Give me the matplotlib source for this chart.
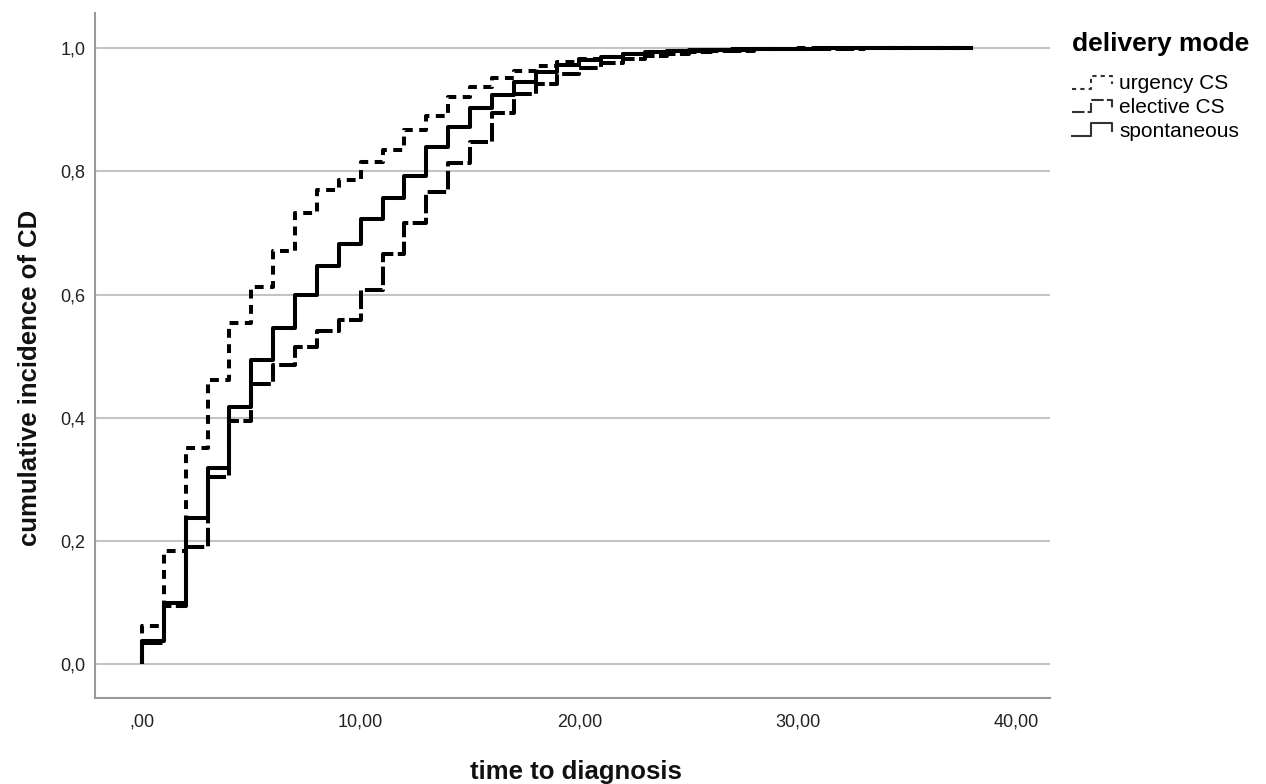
import matplotlib
matplotlib.use("Agg")
import matplotlib.pyplot as plt
from matplotlib.legend_handler import HandlerBase
from matplotlib.lines import Line2D

plt.rcParams['font.family'] = ['Liberation Sans', 'DejaVu Sans']

# step times (years) and cumulative incidence after each step
t_spont = [0, 0, 1, 2, 3, 4, 5, 6, 7, 8, 9, 10, 11, 12, 13, 14, 15, 16, 17, 18, 19, 20,
           21, 22, 23, 24, 25, 27, 29, 31, 38]
v_spont = [0.0, 0.037, 0.10, 0.238, 0.319, 0.418, 0.493, 0.546, 0.600, 0.647, 0.682, 0.723,
           0.757, 0.792, 0.839, 0.872, 0.903, 0.924, 0.945, 0.962, 0.972, 0.980, 0.986,
           0.990, 0.993, 0.995, 0.997, 0.998, 0.999, 1.0, 1.0]

t_urg = [0, 0, 1, 2, 3, 4, 5, 6, 7, 8, 9, 10, 11, 12, 13, 14, 15, 16, 17, 18, 19, 20,
         21, 22, 23, 24, 26, 28, 30, 38]
v_urg = [0.0, 0.062, 0.183, 0.351, 0.462, 0.554, 0.613, 0.671, 0.732, 0.770, 0.786, 0.815,
         0.835, 0.867, 0.890, 0.920, 0.937, 0.952, 0.963, 0.971, 0.977, 0.982, 0.986,
         0.990, 0.993, 0.995, 0.997, 0.999, 1.0, 1.0]

t_elec = [0, 0, 1, 2, 3, 4, 5, 6, 7, 8, 9, 10, 11, 12, 13, 14, 15, 16, 17, 18, 19, 20,
          21, 22, 23, 24, 25, 26, 28, 30, 33, 38]
v_elec = [0.0, 0.035, 0.094, 0.19, 0.303, 0.394, 0.454, 0.486, 0.515, 0.540, 0.559, 0.608,
          0.665, 0.716, 0.767, 0.814, 0.848, 0.894, 0.926, 0.942, 0.958, 0.968, 0.976,
          0.982, 0.987, 0.991, 0.994, 0.996, 0.998, 0.999, 1.0, 1.0]

labels = ['urgency CS', 'elective CS', 'spontaneous']
x_ticks = [0, 10, 20, 30, 40]
x_ticklabels = [',00', '10,00', '20,00', '30,00', '40,00']
y_ticks = [0.0, 0.2, 0.4, 0.6, 0.8, 1.0]
y_ticklabels = ['0,0', '0,2', '0,4', '0,6', '0,8', '1,0']

fig = plt.figure(figsize=(12.66, 7.84), dpi=100)
ax = fig.add_axes([0.075, 0.1097, 0.754, 0.8737])

lw = 2.9
dash_map = {
    'urgency CS': (2.2, 1.6),
    'elective CS': (4.6, 1.1),
    'spontaneous': None,
}
series = {
    'urgency CS': (t_urg, v_urg),
    'elective CS': (t_elec, v_elec),
    'spontaneous': (t_spont, v_spont),
}
for lab in ['elective CS', 'urgency CS', 'spontaneous']:
    t, v = series[lab]
    kw = {'dashes': dash_map[lab]} if dash_map[lab] else {'linestyle': '-'}
    ax.plot(t, v, drawstyle='steps-post', color='black', lw=lw,
            solid_capstyle='butt', dash_capstyle='butt', **kw)


class StepHandler(HandlerBase):
    def __init__(self, dashes=None):
        super().__init__()
        self.dashes = dashes

    def create_artists(self, legend, orig_handle, xdescent, ydescent, width, height,
                       fontsize, trans):
        x0 = -xdescent
        y0 = -ydescent
        xs = [x0, x0 + 0.45 * width, x0 + 0.45 * width, x0 + 0.95 * width, x0 + 0.95 * width]
        ys = [y0 + 0.1 * height, y0 + 0.1 * height, y0 + 0.9 * height,
              y0 + 0.9 * height, y0 + 0.4 * height]
        ln = Line2D(xs, ys, color='#333333', lw=1.5, transform=trans)
        if self.dashes:
            ln.set_dashes(self.dashes)
        return [ln]


handles = [Line2D([], [], color='black') for _ in labels]
hmap = {h: StepHandler({'urgency CS': (2.0, 2.0), 'elective CS': (6, 1.5)}.get(lab))
        for h, lab in zip(handles, labels)}

ax.set_xlim(-2.15, 41.5)
ax.set_ylim(-0.055, 1.057)
ax.set_xticks(x_ticks)
ax.set_xticklabels(x_ticklabels)
ax.set_yticks(y_ticks)
ax.set_yticklabels(y_ticklabels)
ax.tick_params(length=0, labelsize=13, colors='#222222')
ax.tick_params(axis='y', pad=7)
ax.tick_params(axis='x', pad=11)
ax.yaxis.grid(True, color='#c4c4c4', lw=1.5)
ax.set_axisbelow(True)
for s in ['top', 'right']:
    ax.spines[s].set_visible(False)
for s in ['left', 'bottom']:
    ax.spines[s].set_color('#999999')
    ax.spines[s].set_linewidth(1.5)

ax.set_xlabel('time to diagnosis', fontsize=18.5, fontweight='bold', color='#111111')
ax.xaxis.set_label_coords(0.504, -0.09)
ax.set_ylabel('cumulative incidence of CD', fontsize=18.5, fontweight='bold', color='#111111')
ax.yaxis.set_label_coords(-0.055, 0.467)

leg = fig.legend(handles, labels, loc='upper left', bbox_to_anchor=(0.847, 0.959),
                 frameon=False, title='delivery mode', fontsize=15,
                 handlelength=2.0, handleheight=0.8, handletextpad=0.25, labelspacing=0.22,
                 borderpad=0, borderaxespad=0,
                 handler_map=hmap)
leg.get_title().set_fontweight('bold')
leg.get_title().set_fontsize(19)
leg._legend_box.align = 'left'
leg._legend_box.sep = 13

fig.savefig('out.png', dpi=100)
